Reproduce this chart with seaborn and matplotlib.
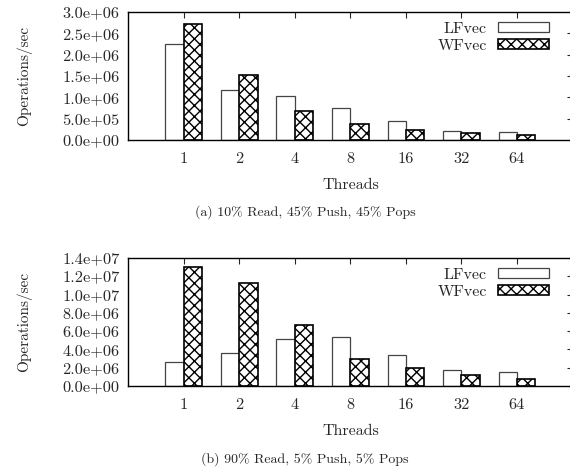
import matplotlib
matplotlib.use("Agg")
import matplotlib.pyplot as plt
import matplotlib.ticker as mticker
from matplotlib.patches import Patch
import seaborn as sns
import pandas as pd

threads = ["1", "2", "4", "8", "16", "32", "64"]
series = ["LFvec", "WFvec"]

# (a) 10% Read, 45% Push, 45% Pops
lf_a = [2.26e6, 1.18e6, 1.04e6, 0.75e6, 0.44e6, 0.22e6, 0.18e6]
wf_a = [2.71e6, 1.52e6, 0.67e6, 0.37e6, 0.23e6, 0.16e6, 0.11e6]

# (b) 90% Read, 5% Push, 5% Pops
lf_b = [2.68e6, 3.65e6, 5.14e6, 5.32e6, 3.40e6, 1.77e6, 1.48e6]
wf_b = [1.30e7, 1.132e7, 6.65e6, 3.00e6, 1.92e6, 1.23e6, 0.80e6]

captions = ["(a) 10% Read, 45% Push, 45% Pops", "(b) 90% Read, 5% Push, 5% Pops"]
ylims = [3.0e6, 1.4e7]
ysteps = [5e5, 2e6]

sns.set_style("white")
plt.rcParams["font.family"] = ["cmr10", "DejaVu Serif"]
plt.rcParams["axes.unicode_minus"] = False
plt.rcParams["hatch.linewidth"] = 1.0


def make_df(lf, wf):
    rows = []
    for t, a, b in zip(threads, lf, wf):
        rows.append({"Threads": t, "series": "LFvec", "ops": a})
        rows.append({"Threads": t, "series": "WFvec", "ops": b})
    return pd.DataFrame(rows)


fig = plt.figure(figsize=(5.7, 4.7), dpi=100)
axes = [fig.add_axes([0.2246, 0.702, 0.78, 0.2723]),
        fig.add_axes([0.2246, 0.1787, 0.78, 0.2723])]
caption_y = [0.549, 0.0234]

for ax, (lf, wf), cap, cy, ymax, ystep in zip(axes, [(lf_a, wf_a), (lf_b, wf_b)],
                                              captions, caption_y, ylims, ysteps):
    df = make_df(lf, wf)
    sns.barplot(data=df, x="Threads", y="ops", hue="series", order=threads,
                hue_order=series, width=0.66, ax=ax, legend=False,
                palette=["white", "white"], saturation=1)
    for bar in ax.containers[0]:
        bar.set_edgecolor("#444444")
        bar.set_linewidth(0.9)
    for bar in ax.containers[1]:
        bar.set_edgecolor("black")
        bar.set_linewidth(1.2)
        bar.set_hatch("xxx")

    ax.set_xlim(-1, 7)
    ax.set_ylim(0, ymax)
    ax.yaxis.set_major_locator(mticker.MultipleLocator(ystep))
    ax.yaxis.set_major_formatter(mticker.FormatStrFormatter("%.1e"))
    ax.tick_params(direction="in", top=True, right=True, length=4,
                   width=0.8, labelsize=11.8, pad=6)
    ax.tick_params(axis="x", bottom=False, pad=9)
    for s in ax.spines.values():
        s.set_linewidth(1.0)
        s.set_color("black")
    ax.set_xlabel("Threads", fontsize=11.5, labelpad=9)
    ax.set_ylabel("Operations/sec", fontsize=11, labelpad=22)

    handles = [Patch(facecolor="white", edgecolor="#444444", linewidth=0.9),
               Patch(facecolor="white", edgecolor="black", linewidth=1.2, hatch="xxx")]
    ax.legend(handles, series, loc="upper right", frameon=False, markerfirst=False,
              fontsize=11.5, handlelength=3.2, handleheight=0.6, labelspacing=0.2,
              handletextpad=0.7, borderpad=0, borderaxespad=0,
              bbox_to_anchor=(0.947, 0.92))

    fig.text(0.535, cy, cap, ha="center", va="center", fontsize=10)

fig.savefig("out.png", dpi=100)
